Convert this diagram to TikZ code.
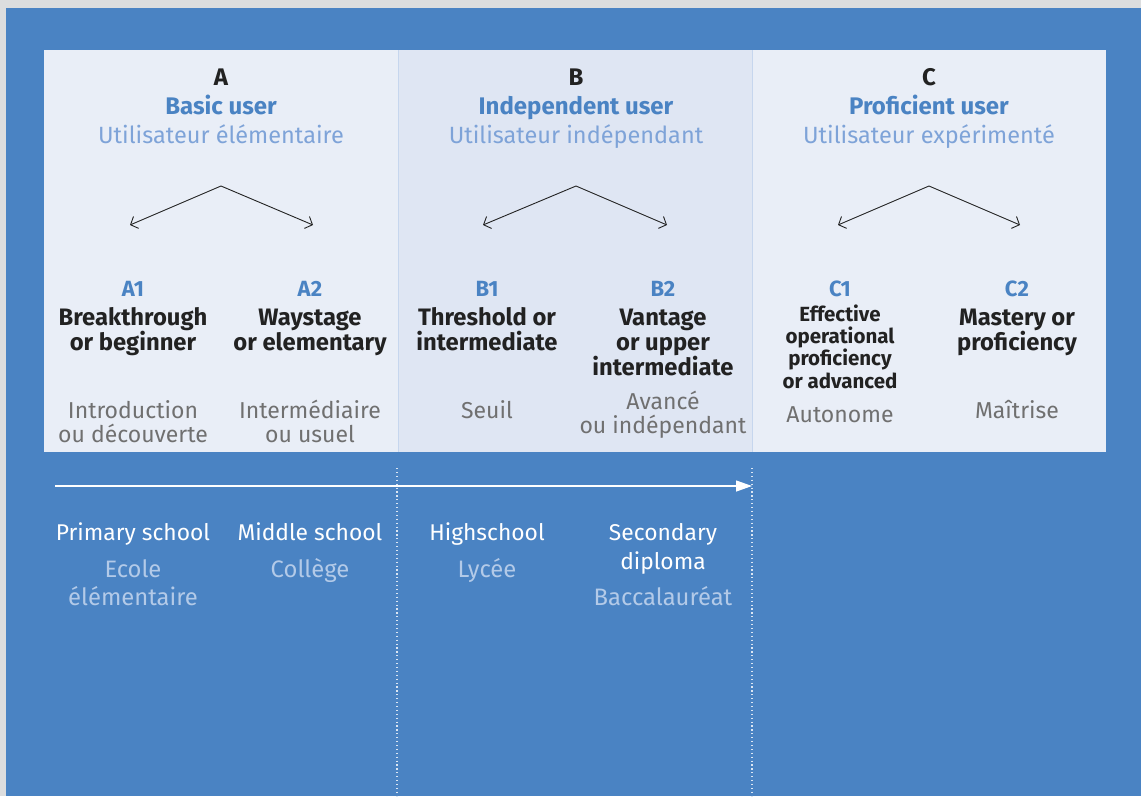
\documentclass[tikz,border=0pt]{standalone}
\usepackage{fontspec}
\setmainfont{Fira Sans}
\usetikzlibrary{arrows.meta}
\definecolor{bgblue}{HTML}{4A83C3}
\definecolor{outer}{HTML}{DCDDDE}
\definecolor{panelA}{HTML}{E9EEF7}
\definecolor{panelB}{HTML}{DFE6F3}
\definecolor{sep}{HTML}{C6D6EE}
\definecolor{titleblue}{HTML}{4A83C3}
\definecolor{frblue}{HTML}{7EA3D8}
\definecolor{darktext}{HTML}{222222}
\definecolor{graytext}{HTML}{707070}
\definecolor{lightfr}{HTML}{B3CAE8}
\tikzset{
  every node/.style={inner sep=0pt, anchor=base},
  lettr/.style={font=\fontsize{24}{24}\selectfont\bfseries, text=darktext},
  usr/.style={font=\fontsize{24}{24}\selectfont\bfseries, text=titleblue},
  frsub/.style={font=\fontsize{23.5}{24}\selectfont, text=frblue},
  lvl/.style={font=\fontsize{22}{22}\selectfont\bfseries, text=titleblue},
  desc/.style={font=\fontsize{23.8}{25}\selectfont\bfseries, text=darktext, align=center},
  descs/.style={font=\fontsize{20.5}{22.3}\selectfont\bfseries, text=darktext, align=center},
  fr/.style={font=\fontsize{23}{24}\selectfont, text=graytext, align=center},
  school/.style={font=\fontsize{22.8}{29}\selectfont, text=white, align=center},
  schoolfr/.style={font=\fontsize{23.8}{28}\selectfont, text=lightfr, align=center},
  chev/.style={draw=darktext, line width=0.9pt, {Straight Barb[length=6pt,width=13pt]}-{Straight Barb[length=6pt,width=13pt]}},
  dotline/.style={draw=white!80!bgblue, line width=1.2pt, dash pattern=on 1.2pt off 2.7pt},
}
\begin{document}
\begin{tikzpicture}[x=1pt,y=-1pt]
\useasboundingbox (0,0) rectangle (1141,796);
\fill[outer] (0,0) rectangle (1141,796);
\fill[bgblue] (6,8) rectangle (1141,796);
% panels
\fill[panelA] (44,50) rectangle (398,452);
\fill[panelB] (398,50) rectangle (752,452);
\fill[panelA] (752,50) rectangle (1106,452);
\draw[sep, line width=0.8pt] (398,50) -- (398,452);
\draw[sep, line width=0.8pt] (752,50) -- (752,452);

% headers
\node[lettr] (hA) at (221,85) {A};
\node[usr] (uA) at (221,114) {Basic user};
\node[frsub] (fA) at (221,143) {Utilisateur élémentaire};
\node[lettr] (hB) at (576,85) {B};
\node[usr] (uB) at (576,114) {Independent user};
\node[frsub] (fB) at (576,143) {Utilisateur indépendant};
\node[lettr] (hC) at (929,85) {C};
\node[usr] (uC) at (929,114) {Proficient user};
\node[frsub] (fC) at (929,143) {Utilisateur expérimenté};

% chevrons
\coordinate (apA) at (221,186); \coordinate (lA) at (130,225); \coordinate (rA) at (313,225);
\coordinate (apB) at (576,186); \coordinate (lB) at (483,225); \coordinate (rB) at (667,225);
\coordinate (apC) at (929,186); \coordinate (lC) at (838,225); \coordinate (rC) at (1020,225);
\draw[chev] (lA) -- (apA) -- (rA);
\draw[chev] (lB) -- (apB) -- (rB);
\draw[chev] (lC) -- (apC) -- (rC);

% levels
\node[lvl] (A1) at (133,296) {A1};
\node[lvl] (A2) at (310,296) {A2};
\node[lvl] (B1) at (487,296) {B1};
\node[lvl] (B2) at (663,296) {B2};
\node[lvl] (C1) at (840,296) {C1};
\node[lvl] (C2) at (1017,296) {C2};

% descriptions (anchor = baseline of last line)
\node[desc] (dA1) at (133,350) {Breakthrough\\or beginner};
\node[desc] (dA2) at (310,350) {Waystage\\or elementary};
\node[desc] (dB1) at (487,350) {Threshold or\\intermediate};
\node[desc] (dB2) at (663,375) {Vantage\\or upper\\intermediate};
\node[descs] (dC1) at (840,388) {Effective\\operational\\proficiency\\or advanced};
\node[desc] (dC2) at (1017,350) {Mastery or\\proficiency};

\node[fr] (fA1) at (133,442) {Introduction\\ou découverte};
\node[fr] (fA2) at (310,442) {Intermédiaire\\ou usuel};
\node[fr] (fB1) at (487,418) {Seuil};
\node[fr] (fB2) at (663,433) {Avancé\\ou indépendant};
\node[fr] (fC1) at (840,422) {Autonome};
\node[fr] (fC2) at (1017,418) {Maîtrise};

% timeline
\coordinate (tl0) at (55,486);
\coordinate (tl1) at (752,486);
\draw[white, line width=1.3pt, -{Triangle[length=16pt,width=11pt]}] (tl0) -- (tl1);
\coordinate (d1t) at (397,468); \coordinate (d1b) at (397,796);
\coordinate (d2t) at (752,468); \coordinate (d2b) at (752,796);
\draw[dotline] (d1t) -- (d1b);
\draw[dotline] (d2t) -- (d2b);

% schools
\node[school] (s1) at (133,540) {Primary school};
\node[schoolfr] (s1f) at (133,605) {Ecole\\élémentaire};
\node[school] (s2) at (310,540) {Middle school};
\node[schoolfr] (s2f) at (310,577) {Collège};
\node[school] (s3) at (487,540) {Highschool};
\node[schoolfr] (s3f) at (487,577) {Lycée};
\node[school] (s4) at (663,569) {Secondary\\diploma};
\node[schoolfr] (s4f) at (663,605) {Baccalauréat};
\end{tikzpicture}
\end{document}
